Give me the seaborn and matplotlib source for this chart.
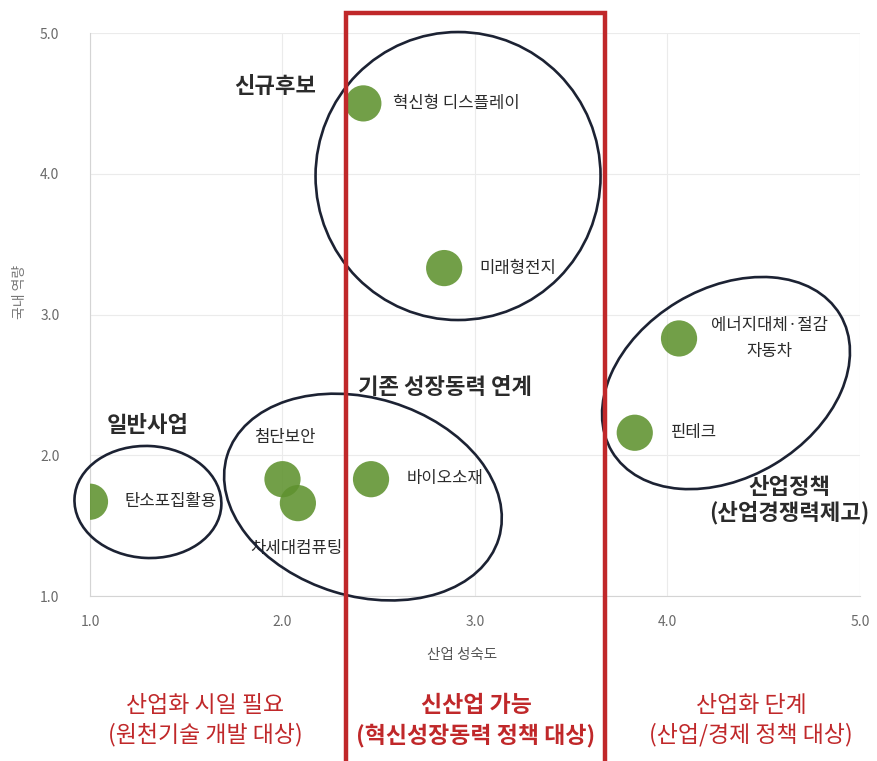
import matplotlib
matplotlib.use("Agg")
import matplotlib.pyplot as plt
from matplotlib.patches import Ellipse, Rectangle
from matplotlib.transforms import ScaledTranslation
import seaborn as sns
import pandas as pd

# 산업 후보군: 산업 성숙도(x) / 국내 역량(y)
industries = ["혁신형 디스플레이", "미래형전지", "에너지대체·절감\n자동차", "핀테크",
              "바이오소재", "첨단보안", "차세대컴퓨팅", "탄소포집활용"]
maturity = [2.42, 2.84, 4.06, 3.83, 2.46, 2.00, 2.08, 1.00]
capability = [4.50, 3.33, 2.83, 2.16, 1.83, 1.83, 1.66, 1.67]

x_ticks = [1.0, 2.0, 3.0, 4.0, 5.0]
y_ticks = [1.0, 2.0, 3.0, 4.0, 5.0]

group_names = ["신규후보", "일반사업", "기존 성장동력 연계", "산업정책\n(산업경쟁력제고)"]
zone_titles = ["산업화 시일 필요", "신산업 가능", "산업화 단계"]
zone_subtitles = ["(원천기술 개발 대상)", "(혁신성장동력 정책 대상)", "(산업/경제 정책 대상)"]

df = pd.DataFrame({"산업": industries, "산업 성숙도": maturity, "국내 역량": capability})

sns.set_style("white")
plt.rcParams["font.family"] = ["Noto Sans CJK KR", "DejaVu Sans"]

fig = plt.figure(figsize=(8.77, 7.61), dpi=100)
ax = fig.add_axes([0.1026, 0.2168, 0.878, 0.7398])

RED = "#c0282a"
INK = "#1c2233"
TXT = "#2b2b2b"

sns.scatterplot(data=df, x="산업 성숙도", y="국내 역량", ax=ax, s=680,
                color="#5f922f", alpha=0.88, edgecolor="none", legend=False, zorder=3)

ax.set_xlim(1.0, 5.0)
ax.set_ylim(1.0, 5.0)
ax.set_xticks(x_ticks)
ax.set_yticks(y_ticks)
ax.set_xticklabels([f"{v:.1f}" for v in x_ticks])
ax.set_yticklabels([f"{v:.1f}" for v in y_ticks])
ax.tick_params(axis="both", length=0, labelsize=10, colors="#6a6a6a")
ax.tick_params(axis="x", pad=14)
ax.tick_params(axis="y", pad=22)
ax.grid(True, color="#ebebeb", linewidth=0.8)
ax.set_axisbelow(True)
for side in ["top", "right"]:
    ax.spines[side].set_visible(False)
for side in ["left", "bottom"]:
    ax.spines[side].set_color("#d4d4d4")
    ax.spines[side].set_linewidth(0.8)

ax.set_xlabel("산업 성숙도", fontsize=10.5, color="#555555")
ax.set_ylabel("국내 역량", fontsize=10, color="#777777")
ax.xaxis.set_label_coords(0.483, -0.092)
ax.yaxis.set_label_coords(-0.082, 0.54)

# 개별 산업 라벨 (점 기준 오프셋, 픽셀)
label_offsets = {
    "혁신형 디스플레이": (30, 0, "left"),
    "미래형전지": (35, 0, "left"),
    "에너지대체·절감\n자동차": (90, 0, "center"),
    "핀테크": (36, 0, "left"),
    "바이오소재": (36, 1, "left"),
    "첨단보안": (2, 42, "center"),
    "차세대컴퓨팅": (-1, -45, "center"),
    "탄소포집활용": (35, 0, "left"),
}
for name, xv, yv in zip(industries, maturity, capability):
    dx, dy, ha = label_offsets[name]
    ax.annotate(name, (xv, yv), xytext=(dx, dy), textcoords="offset pixels",
                ha=ha, va="center", fontsize=12, color=TXT, linespacing=1.75,
                zorder=4, annotation_clip=False)

# 그룹 타원 (중심은 데이터 좌표, 크기는 인치)
def group_ellipse(cx, cy, w_in, h_in, angle):
    tr = fig.dpi_scale_trans + ScaledTranslation(cx, cy, ax.transData)
    e = Ellipse((0, 0), w_in, h_in, angle=angle, fill=False, edgecolor=INK,
                linewidth=1.9, transform=tr, clip_on=False, zorder=5)
    ax.add_patch(e)

group_ellipse(2.912, 3.984, 2.85, 2.88, 0)
group_ellipse(1.301, 1.668, 1.47, 1.12, -3)
group_ellipse(2.418, 1.703, 2.84, 1.98, -17)
group_ellipse(4.304, 2.513, 2.66, 1.89, 31)

# 그룹 이름
bold_kw = dict(fontsize=16, fontweight="bold", color=TXT, zorder=6)
ax.text(1.961, 4.623, group_names[0], ha="center", va="center", **bold_kw)
ax.text(1.301, 2.215, group_names[1], ha="center", va="center", **bold_kw)
ax.text(2.392, 2.478, group_names[2], ha="left", va="center", **bold_kw)
ax.text(4.631, 1.682, group_names[3], ha="center", va="center",
        linespacing=1.1, clip_on=False, **bold_kw)

# 신산업 영역 강조 테두리
fig.patches.append(Rectangle((346 / 877, -0.01), (605 - 346) / 877, 0.983 + 0.01,
                             transform=fig.transFigure, fill=False,
                             edgecolor=RED, linewidth=3.2, zorder=10))

# 하단 영역 설명
zone_x = [205 / 877, 476 / 877, 751 / 877]
zone_weight = ["normal", "bold", "normal"]
for xf, t1, t2, wgt in zip(zone_x, zone_titles, zone_subtitles, zone_weight):
    fig.text(xf, 1 - 705 / 761, t1, ha="center", va="center", fontsize=16.5,
             color=RED, fontweight=wgt)
    fig.text(xf, 1 - 735 / 761, t2, ha="center", va="center", fontsize=16.5,
             color=RED, fontweight=wgt)

fig.savefig("out.png", dpi=100)
